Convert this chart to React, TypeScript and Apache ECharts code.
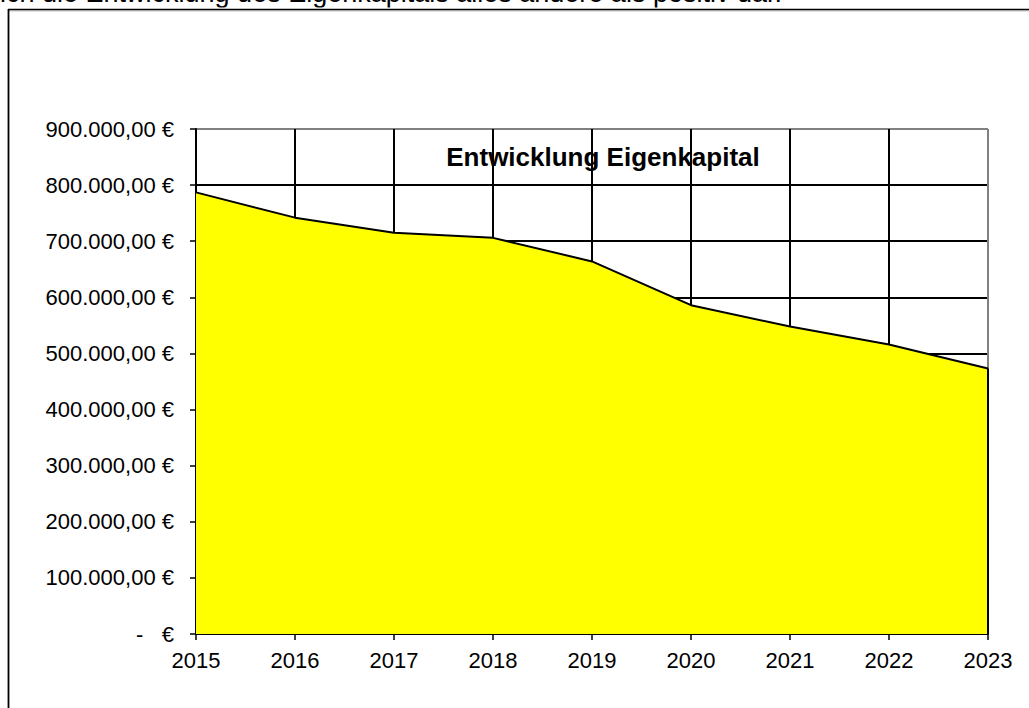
import React, { useEffect, useRef } from "react";
import * as echarts from "echarts";

const years = ["2015", "2016", "2017", "2018", "2019", "2020", "2021", "2022", "2023"];
const equity = [787000, 742000, 715000, 706000, 664000, 586000, 548000, 516000, 473000];
const yMin = 0;
const yMax = 900000;
const yStep = 100000;
const chartTitle = "Entwicklung Eigenkapital";
const topText = "ich die Entwicklung des Eigenkapitals alles andere als positiv dar.";

function formatEuro(v: number): string {
  if (v === 0) return "-\u00A0\u00A0\u00A0€";
  const intPart = Math.round(v).toString().replace(/\B(?=(\d{3})+(?!\d))/g, ".");
  return intPart + ",00\u00A0€";
}

export default function App() {
  const ref = useRef<HTMLDivElement>(null);
  useEffect(() => {
    if (!ref.current) return;
    const chart = echarts.init(ref.current, null, { renderer: "svg" });
    const font = "Liberation Sans, Arial, sans-serif";
    const last = years[years.length - 1];
    const lastVal = equity[equity.length - 1];
    chart.setOption({
      animation: false,
      backgroundColor: "#fff",
      grid: { left: 196, right: 41, top: 129, bottom: 74, containLabel: false },
      title: {
        text: chartTitle,
        left: 598,
        top: 139,
        textAlign: "center",
        textStyle: { fontFamily: font, fontSize: 26, fontWeight: "bold", color: "#000" },
      },
      graphic: [
        {
          type: "text",
          left: 0,
          top: -21,
          z: 10,
          style: { text: topText, fontFamily: font, fontSize: 27, fill: "#000" },
        },
        {
          type: "rect",
          shape: { x: 0, y: 7.5, width: 1029, height: 1.5 },
          style: { fill: "#fff" },
          z: 11,
        },
        {
          type: "line",
          shape: { x1: 8, y1: 9.5, x2: 1029, y2: 9.5 },
          style: { stroke: "#000", lineWidth: 1.5 },
          z: 12,
        },
        {
          type: "line",
          shape: { x1: 9, y1: 10.8, x2: 1029, y2: 10.8 },
          style: { stroke: "#999", lineWidth: 1 },
          z: 12,
        },
        {
          type: "line",
          shape: { x1: 8.5, y1: 9, x2: 8.5, y2: 708 },
          style: { stroke: "#000", lineWidth: 1.8 },
          z: 12,
        },
      ],
      xAxis: {
        type: "category",
        data: years,
        boundaryGap: false,
        axisLine: { lineStyle: { color: "#000", width: 2 } },
        axisTick: { show: true, inside: false, length: 6, lineStyle: { color: "#000", width: 1.5 } },
        axisLabel: { color: "#000", fontFamily: font, fontSize: 22, margin: 15 },
        splitLine: {
          show: true,
          lineStyle: {
            color: ["#000", "#000", "#000", "#000", "#000", "#000", "#000", "#000", "#808080"],
            width: 2,
          },
        },
      },
      yAxis: {
        type: "value",
        min: yMin,
        max: yMax,
        interval: yStep,
        axisLine: { show: true, lineStyle: { color: "#000", width: 2 } },
        axisTick: { show: true, inside: false, length: 6, lineStyle: { color: "#000", width: 1.5 } },
        axisLabel: { color: "#000", fontFamily: font, fontSize: 22, margin: 22, formatter: formatEuro },
        splitLine: {
          show: true,
          lineStyle: {
            color: ["#000", "#000", "#000", "#000", "#000", "#000", "#000", "#000", "#000", "#808080"],
            width: 2,
          },
        },
      },
      series: [
        {
          type: "line",
          data: equity,
          symbol: "none",
          lineStyle: { color: "#000", width: 2 },
          areaStyle: { color: "#ffff00", opacity: 1 },
          markLine: {
            silent: true,
            symbol: ["none", "none"],
            label: { show: false },
            lineStyle: { color: "#000", width: 2, type: "solid" },
            data: [[{ coord: [last, 0] }, { coord: [last, lastVal] }]],
          },
        },
      ],
    });
    return () => chart.dispose();
  }, []);
  return (
    <div
      ref={ref}
      style={{ position: "absolute", left: 0, top: 0, width: 1029, height: 708 }}
    />
  );
}
